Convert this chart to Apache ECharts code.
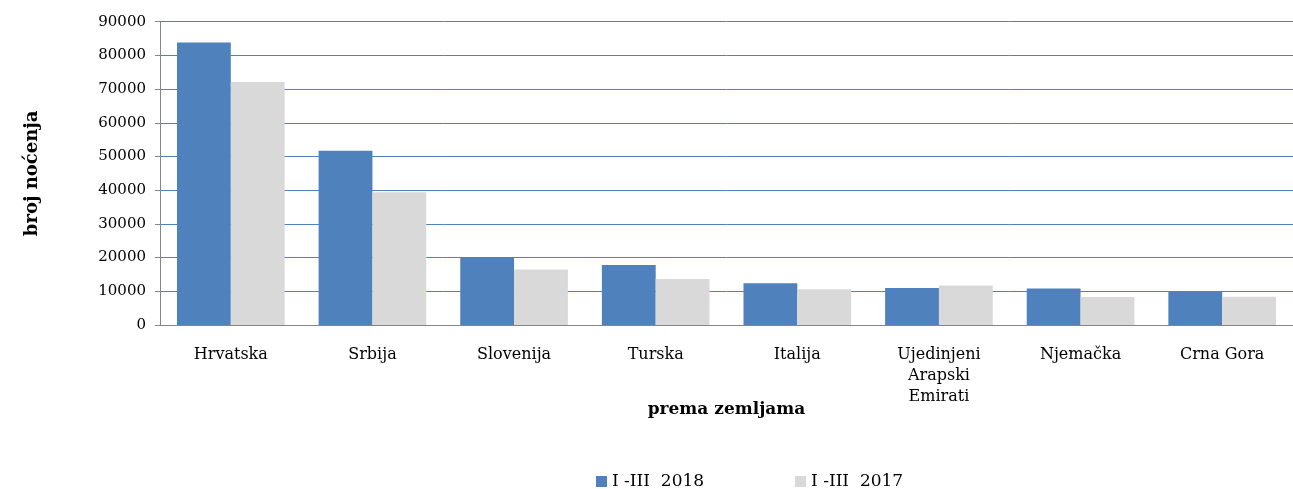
<!DOCTYPE html>
<html>
<head>
<meta charset="utf-8">
<script src="https://cdn.jsdelivr.net/npm/echarts@6/dist/echarts.min.js"></script>
<style>
  html, body { margin: 0; padding: 0; background: #fff; }
  #chart { width: 1293px; height: 489px; }
</style>
</head>
<body>
<div id="chart"></div>
<script>
// categories (countries) and values
const countries = ['Hrvatska', 'Srbija', 'Slovenija', 'Turska', 'Italija',
  'Ujedinjeni\nArapski\nEmirati', 'Njemačka', 'Crna Gora'];
const nights2018 = [83800, 51700, 19900, 17800, 12400, 11000, 10800, 9950];
const nights2017 = [72100, 39400, 16500, 13650, 10600, 11750, 8300, 8400];
const yTicks = { min: 0, max: 90000, interval: 10000 };

const serif = '"DejaVu Serif", "Liberation Serif", serif';

const chart = echarts.init(document.getElementById('chart'));
chart.setOption({
  animation: false,
  textStyle: { fontFamily: serif },
  grid: { left: 160, right: 0, top: 21.7, bottom: 164, containLabel: false },
  legend: {
    top: 468,
    left: 591,
    itemWidth: 11,
    itemHeight: 11,
    itemGap: 91,
    icon: 'rect',
    textStyle: { fontFamily: serif, fontSize: 17, color: '#000' },
    data: ['I -III  2018', 'I -III  2017']
  },
  xAxis: {
    type: 'category',
    data: countries,
    name: 'prema zemljama',
    nameLocation: 'middle',
    nameGap: 76,
    nameMoveOverlap: false,
    nameTextStyle: { fontFamily: serif, fontSize: 17, fontWeight: 'bold', color: '#000' },
    axisLine: { lineStyle: { color: '#868686', width: 1 } },
    axisTick: { show: false },
    axisLabel: { fontSize: 16, color: '#000', margin: 19, lineHeight: 21, interval: 0 }
  },
  yAxis: {
    type: 'value',
    min: yTicks.min,
    max: yTicks.max,
    interval: yTicks.interval,
    name: 'broj noćenja',
    nameLocation: 'middle',
    nameGap: 119,
    nameMoveOverlap: false,
    nameTextStyle: { fontFamily: serif, fontSize: 18, fontWeight: 'bold', color: '#000' },
    axisLine: { show: true, lineStyle: { color: '#868686', width: 1 } },
    axisTick: { show: true, length: 5, lineStyle: { color: '#868686' } },
    axisLabel: { fontSize: 15, color: '#000', margin: 14, formatter: v => String(v) },
    splitLine: { lineStyle: { color: '#4F81BD', width: 1 } }
  },
  series: [
    {
      name: 'I -III  2018',
      type: 'bar',
      data: nights2018,
      barGap: '0%',
      barCategoryGap: '24%',
      itemStyle: { color: '#4F81BD' }
    },
    {
      name: 'I -III  2017',
      type: 'bar',
      data: nights2017,
      itemStyle: { color: '#D9D9D9' }
    }
  ]
});
</script>
</body>
</html>
